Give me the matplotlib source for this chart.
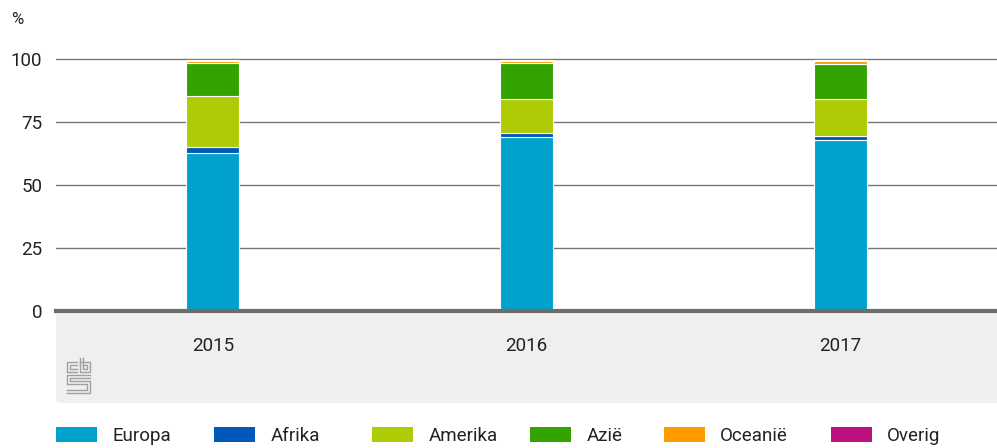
import matplotlib
matplotlib.use("Agg")
import matplotlib.pyplot as plt
from matplotlib.patches import FancyBboxPatch, Patch
from matplotlib.lines import Line2D
import numpy as np

plt.rcParams['font.family'] = ['Roboto', 'DejaVu Sans']

years = ["2015", "2016", "2017"]
series_names = ["Europa", "Afrika", "Amerika", "Azië", "Oceanië", "Overig"]
europa = [62.7, 68.9, 67.9]
afrika = [2.5, 1.6, 1.5]
amerika = [20.0, 13.7, 14.7]
azie = [13.2, 14.2, 14.0]
oceanie = [1.0, 1.0, 1.3]
overig = [0.1, 0.1, 0.1]
series_values = [europa, afrika, amerika, azie, oceanie, overig]
colors = ["#00A1CD", "#0058B8", "#AFCB05", "#33A300", "#FF9A00", "#BE1180"]
yticks = [0, 25, 50, 75, 100]

W, H = 997, 448
fig = plt.figure(figsize=(W / 100, H / 100), dpi=100)

def fx(px):
    return px / W

def fy(py):
    return (H - py) / H

# gray band under the axis
band = FancyBboxPatch((fx(56), fy(403)), fx(997) - fx(56) + 0.01, fy(311) - fy(403),
                      boxstyle="round,pad=0,rounding_size=0.008",
                      transform=fig.transFigure, facecolor="#EFEFEF", edgecolor="none", zorder=-5)
fig.patches.append(band)

ymax = 105
ax = fig.add_axes([fx(56), fy(311), fx(997) - fx(56), (ymax * 2.52) / H])
ax.set_zorder(2)
ax.set_facecolor("none")
x = np.arange(len(years))
bottom = np.zeros(len(years))
for name, vals, col in zip(series_names, series_values, colors):
    ax.bar(x, vals, width=0.17, bottom=bottom, color=col, edgecolor="white",
           linewidth=0.8, label=name, zorder=3)
    bottom += np.array(vals)

ax.set_xlim(-0.5, 2.5)
ax.set_ylim(0, ymax)
ax.set_yticks(yticks)
ax.set_yticklabels([str(v) for v in yticks])
ax.set_xticks(x)
ax.set_xticklabels(years)
for v in yticks[1:]:
    ax.axhline(v, color="#777777", linewidth=1.0, zorder=1)
ax.axhline(0, color="#6D6D6D", linewidth=3.0, zorder=4, clip_on=False)
for s in ax.spines.values():
    s.set_visible(False)
ax.tick_params(axis='both', length=0, labelsize=13.5, labelcolor="#222222")
ax.tick_params(axis='x', pad=19)
ax.tick_params(axis='y', pad=10)

fig.text(fx(11), fy(20), "%", fontsize=12, color="#222222", va="center", ha="left")

# cbs logo (approximate outline)
logo_col = "#A0A0A0"
def pl(xs, ys):
    fig.add_artist(Line2D([fx(v) for v in xs], [fy(v) for v in ys],
                          transform=fig.transFigure, color=logo_col, linewidth=1.0))
pl([77, 67, 67, 77], [362, 362, 372, 372])
pl([77, 70, 70, 77], [365, 365, 369, 369])
pl([80, 80, 90, 90, 80], [358, 372, 372, 362, 362])
pl([83, 83, 87, 87, 83], [358, 369, 369, 365, 365])
pl([90, 67, 67, 87, 87, 67], [375, 375, 384, 384, 390, 390])
pl([90, 70, 70, 90, 90, 67], [378, 378, 381, 381, 393, 393])

# legend: one entry per legend box so each sits where the reference puts it
legend_x = [56, 214, 372, 530, 664, 831]
for lx, n, c in zip(legend_x, series_names, colors):
    leg = fig.legend(handles=[Patch(facecolor=c, edgecolor="none", label=n)],
                     loc="center left", bbox_to_anchor=(fx(lx), fy(436)),
                     frameon=False, fontsize=13.5, handlelength=2.16, handleheight=0.9,
                     handletextpad=0.84, borderpad=0, borderaxespad=0,
                     labelcolor="#222222")

fig.savefig("out.png", dpi=100)
